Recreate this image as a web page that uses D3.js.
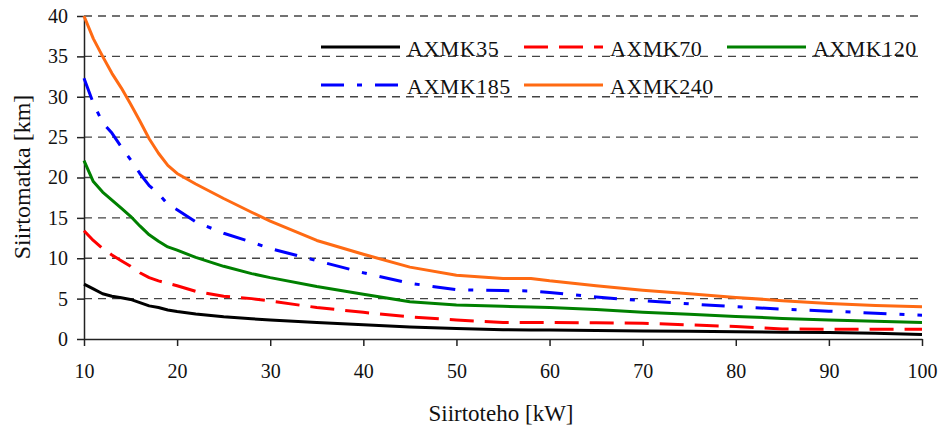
<!DOCTYPE html>
<html>
<head>
<meta charset="utf-8">
<script src="https://cdn.jsdelivr.net/npm/d3@7"></script>
<style>
  body { margin: 0; background: #fff; }
</style>
</head>
<body>
<svg id="chart"></svg>
<script>
var width = 940;
var height = 428;
var margin = { top: 16, right: 18, bottom: 89, left: 84 };
var serifFont = "Liberation Serif";

// Siirtoteho [kW]
var power = [10, 11, 12, 13, 14, 15, 16, 17, 18, 19, 20, 22, 25, 28, 30, 35, 40, 45, 50, 55, 58, 60, 65, 70, 75, 80, 85, 90, 95, 100];

// Siirtomatka [km] for each cable
var axmk35 = [6.8, 6.2, 5.6, 5.3, 5.1, 4.9, 4.5, 4.1, 3.9, 3.6, 3.4, 3.1, 2.75, 2.5, 2.35, 2.05, 1.75, 1.5, 1.3, 1.15, 1.1, 1.1, 1.05, 1.0, 0.95, 0.9, 0.85, 0.8, 0.7, 0.55];
var axmk70 = [13.4, 12.2, 11.2, 10.4, 9.7, 9.0, 8.2, 7.6, 7.2, 6.9, 6.6, 5.9, 5.3, 5.0, 4.7, 3.9, 3.3, 2.75, 2.35, 2.05, 2.05, 2.05, 2.0, 1.95, 1.75, 1.55, 1.25, 1.2, 1.2, 1.2];
var axmk120 = [22.1, 19.5, 18.2, 17.2, 16.2, 15.2, 14.0, 12.9, 12.1, 11.4, 11.0, 10.1, 9.0, 8.1, 7.6, 6.5, 5.55, 4.6, 4.2, 4.05, 3.95, 3.9, 3.65, 3.3, 3.05, 2.8, 2.55, 2.35, 2.2, 2.05];
var axmk185 = [32.3, 29.2, 26.8, 25.5, 23.8, 22.2, 20.5, 19.0, 18.0, 16.7, 16.0, 14.5, 13.1, 12.0, 11.2, 9.7, 8.2, 6.9, 6.1, 6.0, 5.95, 5.75, 5.2, 4.75, 4.35, 4.0, 3.7, 3.45, 3.2, 2.95];
var axmk240 = [40, 37.2, 35, 32.9, 31.1, 29.1, 27.0, 24.8, 23.0, 21.5, 20.5, 19.2, 17.4, 15.7, 14.6, 12.2, 10.5, 8.9, 7.9, 7.5, 7.5, 7.2, 6.6, 6.05, 5.6, 5.15, 4.75, 4.4, 4.15, 4.0];

var xTicks = [10, 20, 30, 40, 50, 60, 70, 80, 90, 100];
var yTicks = [0, 5, 10, 15, 20, 25, 30, 35, 40];

var series = [
  { name: "AXMK35", values: axmk35, color: "#000000", dash: null },
  { name: "AXMK70", values: axmk70, color: "#ff0000", dash: "24,11" },
  { name: "AXMK120", values: axmk120, color: "#008000", dash: null },
  { name: "AXMK185", values: axmk185, color: "#0000ff", dash: "23,13,5,13" },
  { name: "AXMK240", values: axmk240, color: "#ff6a13", dash: null }
];

var svg = d3.select("#chart")
  .attr("width", width)
  .attr("height", height)
  .attr("font-family", serifFont);

var xScale = d3.scaleLinear().domain([10, 100]).range([margin.left, width - margin.right]);
var yScale = d3.scaleLinear().domain([0, 40]).range([height - margin.bottom, margin.top]);

// dashed grid
svg.append("g")
  .selectAll("line")
  .data(yTicks.filter((d) => d > 0))
  .enter()
  .append("line")
  .attr("x1", xScale(10))
  .attr("x2", xScale(100))
  .attr("y1", (d) => yScale(d))
  .attr("y2", (d) => yScale(d))
  .attr("stroke", "#444")
  .attr("stroke-width", 1.4)
  .attr("stroke-dasharray", "8,6");

// axes
var xAxis = d3.axisBottom(xScale).tickValues(xTicks).tickSize(7).tickPadding(18).tickSizeOuter(0);
var yAxis = d3.axisLeft(yScale).tickValues(yTicks).tickSize(7).tickPadding(9).tickSizeOuter(0);

var gx = svg.append("g")
  .attr("transform", `translate(0, ${height - margin.bottom})`)
  .call(xAxis);
var gy = svg.append("g")
  .attr("transform", `translate(${margin.left}, 0)`)
  .call(yAxis);

[gx, gy].forEach(function (g) {
  g.attr("font-family", serifFont).attr("font-size", 20);
  g.selectAll("path, line").attr("stroke", "#222").attr("stroke-width", 1.5);
  g.selectAll("text").attr("fill", "#111");
});

// lines
var line = d3.line()
  .x((d) => xScale(d[0]))
  .y((d) => yScale(d[1]));

svg.append("g")
  .selectAll("path")
  .data(series)
  .enter()
  .append("path")
  .attr("d", (s) => line(power.map((p, i) => [p, s.values[i]])))
  .attr("fill", "none")
  .attr("stroke", (s) => s.color)
  .attr("stroke-width", 3)
  .attr("stroke-dasharray", (s) => s.dash)
  .attr("stroke-linejoin", "round");

// legend
var legendPos = [
  { x: 321, y: 47 },
  { x: 524, y: 47 },
  { x: 727, y: 47 },
  { x: 321, y: 85 },
  { x: 524, y: 85 }
];

var legend = svg.append("g")
  .selectAll("g")
  .data(series)
  .enter()
  .append("g")
  .attr("transform", (s, i) => `translate(${legendPos[i].x}, ${legendPos[i].y})`);

legend.append("line")
  .attr("x1", 0)
  .attr("x2", 79)
  .attr("y1", 0)
  .attr("y2", 0)
  .attr("stroke", (s) => s.color)
  .attr("stroke-width", 3)
  .attr("stroke-dasharray", (s) => s.dash);

legend.append("text")
  .attr("x", 86)
  .attr("y", 9)
  .attr("font-size", 22)
  .attr("fill", "#111")
  .style("letter-spacing", "0.5px")
  .text((s) => s.name);

// axis titles
svg.append("text")
  .attr("x", 501)
  .attr("y", 421)
  .attr("text-anchor", "middle")
  .attr("font-size", 23)
  .attr("fill", "#111")
  .text("Siirtoteho [kW]");

svg.append("text")
  .attr("transform", "rotate(-90)")
  .attr("x", -177)
  .attr("y", 30)
  .attr("text-anchor", "middle")
  .attr("font-size", 24)
  .attr("fill", "#111")
  .text("Siirtomatka [km]");
</script>
</body>
</html>
